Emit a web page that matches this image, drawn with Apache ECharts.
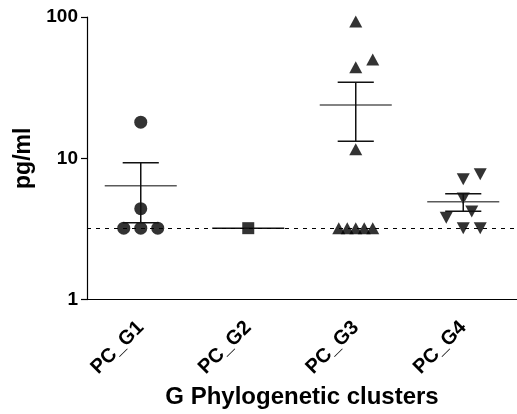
<!DOCTYPE html>
<html style="height: 100%">
<head>
    <meta charset="utf-8">
</head>
<body style="height: 100%; margin: 0; background: #fff">
<div id="container" style="width: 517px; height: 414px"></div>
<script src="https://cdn.jsdelivr.net/npm/echarts@6/dist/echarts.min.js"></script>
<script type="text/javascript">
    // categories and values (pg/ml)
    var categories = ['PC_G1', 'PC_G2', 'PC_G3', 'PC_G4'];
    var g1 = [18, 4.4, 3.2, 3.2, 3.2];
    var g2 = [3.2];
    var g3 = [93, 50, 44, 11.6, 3.2, 3.2, 3.2, 3.2, 3.2];
    var g4 = [7.7, 7.1, 5.2, 4.2, 3.8, 3.2, 3.2];
    var detectionLimit = 3.2;
    var yTicks = [1, 10, 100];

    // horizontal spread of points inside a column (in steps)
    var g1Spread = [0, 0, -1, 0, 1];
    var g2Spread = [0];
    var g3Spread = [0, 1, 0, 0, -1, -0.5, 0, 0.5, 1];
    var g4Spread = [1, 0, 0, 0.5, -1, 0, 1];

    var STEP = 0.158; // fraction of a category band
    var FONT = 'Liberation Sans';

    function points(idx, vals, spread) {
        return vals.map(function (v, i) { return [idx + spread[i] * STEP, v]; });
    }

    // mean +/- SEM
    function stats(idx, vals) {
        var n = vals.length;
        var m = vals.reduce(function (a, b) { return a + b; }, 0) / n;
        if (n < 2) return [idx, m, m, m, 0];
        var ss = vals.reduce(function (a, b) { return a + (b - m) * (b - m); }, 0);
        var sem = Math.sqrt(ss / (n - 1)) / Math.sqrt(n);
        return [idx, m, m - sem, m + sem, 1];
    }
    var summary = [stats(0, g1), stats(1, g2), stats(2, g3), stats(3, g4)];

    var dom = document.getElementById('container');
    var chart = echarts.init(dom, null, {renderer: 'canvas'});

    function renderMean(params, api) {
        var x = api.value(0);
        var c = api.coord([x, api.value(1)]);
        var band = api.coord([x + 1, api.value(1)])[0] - c[0];
        var halfMean = band * 0.335;
        var halfCap = band * 0.168;
        var children = [{
            type: 'line',
            shape: {x1: c[0] - halfMean, y1: c[1], x2: c[0] + halfMean, y2: c[1]},
            style: {stroke: api.value(4) ? '#5a5a5a' : '#111', lineWidth: 1.5}
        }];
        if (api.value(4)) {
            var lo = api.coord([x, api.value(2)]);
            var hi = api.coord([x, api.value(3)]);
            children.push({
                type: 'line',
                shape: {x1: c[0], y1: lo[1], x2: c[0], y2: hi[1]},
                style: {stroke: '#111', lineWidth: 1.5}
            }, {
                type: 'line',
                shape: {x1: c[0] - halfCap, y1: lo[1], x2: c[0] + halfCap, y2: lo[1]},
                style: {stroke: '#111', lineWidth: 1.5}
            }, {
                type: 'line',
                shape: {x1: c[0] - halfCap, y1: hi[1], x2: c[0] + halfCap, y2: hi[1]},
                style: {stroke: '#111', lineWidth: 1.5}
            });
        }
        return {type: 'group', children: children};
    }

    var option = {
        animation: false,
        backgroundColor: '#fff',
        grid: {left: 87, right: 0, top: 17, bottom: 113, containLabel: false},
        xAxis: [{
            type: 'category',
            data: categories,
            boundaryGap: true,
            name: 'G Phylogenetic clusters',
            nameLocation: 'middle',
            nameGap: 83,
            nameTextStyle: {fontFamily: FONT, fontWeight: 'bold', fontSize: 24, color: '#000'},
            axisLine: {lineStyle: {color: '#000', width: 1.2}},
            axisTick: {alignWithLabel: true, length: 8, lineStyle: {color: '#000', width: 1.2}},
            axisLabel: {rotate: 45, margin: 25, fontFamily: FONT, fontWeight: 'bold', fontSize: 20, color: '#000'},
            splitLine: {show: false}
        }, {
            type: 'value',
            min: -0.5,
            max: 3.5,
            show: false
        }],
        yAxis: {
            type: 'log',
            logBase: 10,
            min: yTicks[0],
            max: yTicks[yTicks.length - 1],
            name: 'pg/ml',
            nameLocation: 'middle',
            nameGap: 52,
            nameRotate: 90,
            nameTextStyle: {fontFamily: FONT, fontWeight: 'bold', fontSize: 23, color: '#000'},
            axisLine: {show: true, onZero: false, lineStyle: {color: '#000', width: 1.2}},
            axisTick: {show: true, length: 6, lineStyle: {color: '#000', width: 1.2}},
            minorTick: {show: false},
            axisLabel: {margin: 9, fontFamily: FONT, fontWeight: 'bold', fontSize: 19, color: '#000'},
            splitLine: {show: false}
        },
        series: [{
            type: 'scatter',
            xAxisIndex: 1,
            data: points(0, g1, g1Spread),
            symbol: 'circle',
            symbolSize: 13,
            itemStyle: {color: '#000'},
            markLine: {
                silent: true,
                symbol: 'none',
                label: {show: false},
                lineStyle: {color: '#000', type: [4, 5], width: 1},
                data: [{yAxis: detectionLimit}]
            },
            z: 3
        }, {
            type: 'scatter',
            xAxisIndex: 1,
            data: points(1, g2, g2Spread),
            symbol: 'rect',
            symbolSize: 12,
            itemStyle: {color: '#000'},
            z: 3
        }, {
            type: 'scatter',
            xAxisIndex: 1,
            data: points(2, g3, g3Spread),
            symbol: 'triangle',
            symbolSize: [13, 12],
            itemStyle: {color: '#000'},
            z: 3
        }, {
            type: 'scatter',
            xAxisIndex: 1,
            data: points(3, g4, g4Spread),
            symbol: 'triangle',
            symbolRotate: 180,
            symbolSize: [13, 12],
            itemStyle: {color: '#000'},
            z: 3
        }, {
            type: 'custom',
            xAxisIndex: 1,
            renderItem: renderMean,
            encode: {x: 0, y: [1, 2, 3]},
            data: summary,
            clip: false,
            z: 4
        }]
    };

    chart.setOption(option);
</script>
</body>
</html>
